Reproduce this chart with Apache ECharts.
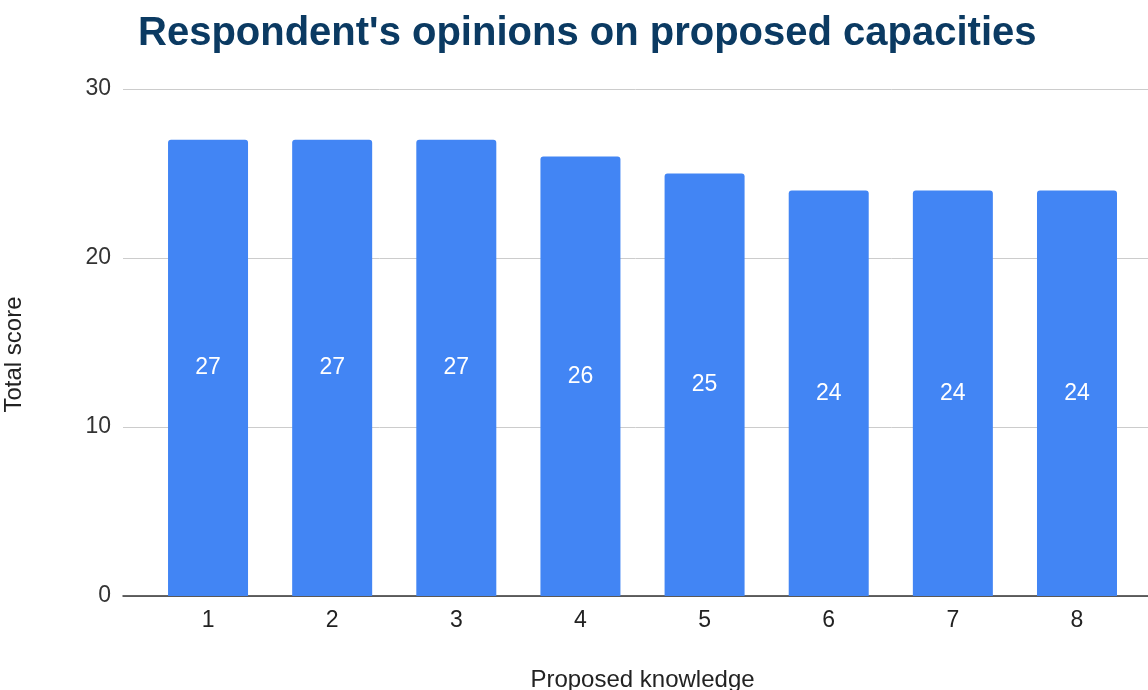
<!DOCTYPE html>
<html><head><meta charset="utf-8">
<script src="https://cdn.jsdelivr.net/npm/echarts@6/dist/echarts.min.js"></script>
<style>html,body{margin:0;padding:0;background:#fff}#c{width:1148px;height:690px}</style>
</head><body><div id="c"></div>
<script>
const categories = [1, 2, 3, 4, 5, 6, 7, 8];
const scores = [27, 27, 27, 26, 25, 24, 24, 24];
const yTicks = [0, 10, 20, 30];

const FONT = 'Liberation Sans, Arial, sans-serif';
const chart = echarts.init(document.getElementById('c'), null, {renderer: 'canvas'});
chart.setOption({
  animation: false,
  title: {
    text: "Respondent's opinions on proposed capacities",
    left: 133, top: 9, padding: 5,
    textStyle: {fontFamily: FONT, fontWeight: 'bold', fontSize: 40, color: '#0b3a62'}
  },
  grid: {left: 123, right: 0, top: 89, bottom: 94, containLabel: false, outerBoundsMode: 'none'},
  xAxis: {
    type: 'value', min: 0.315, max: 8.572,
    name: 'Proposed knowledge', nameLocation: 'middle', nameGap: 72,
    nameTextStyle: {fontFamily: FONT, fontSize: 24, color: '#222', padding: [0, 0, 0, 14]},
    axisLine: {show: true, lineStyle: {color: '#333', width: 1.5}},
    axisTick: {show: false},
    splitLine: {show: false},
    axisLabel: {customValues: categories, fontFamily: FONT, fontSize: 23, color: '#222', margin: 13}
  },
  yAxis: {
    type: 'value', min: yTicks[0], max: yTicks[yTicks.length - 1], interval: 10,
    name: 'Total score', nameLocation: 'middle', nameGap: 97, nameRotate: 90,
    nameTextStyle: {fontFamily: FONT, fontSize: 24, color: '#222', padding: [0, 24, 0, 0]},
    axisLine: {show: false}, axisTick: {show: false},
    axisLabel: {fontFamily: FONT, fontSize: 23, color: '#333', margin: 12},
    splitLine: {lineStyle: {color: '#cccccc', width: 1}}
  },
  series: [{
    type: 'bar',
    data: categories.map((c, i) => [c, scores[i]]),
    barWidth: 80,
    itemStyle: {color: '#4285f4', borderRadius: [3, 3, 0, 0]},
    label: {show: true, position: 'inside', color: '#fff', fontFamily: FONT, fontSize: 23}
  }]
});
</script></body></html>
